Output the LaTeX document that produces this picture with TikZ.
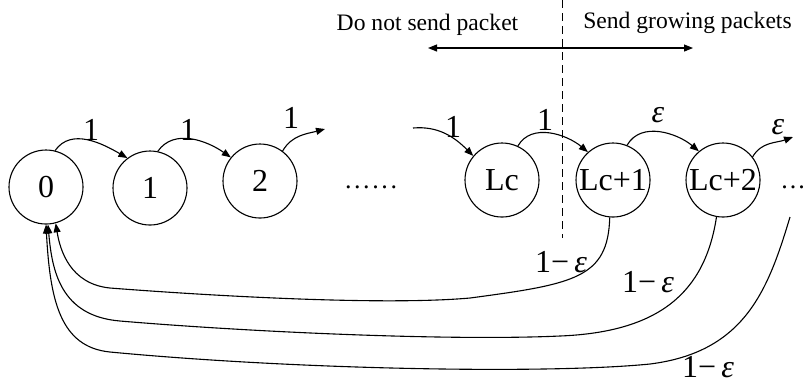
\documentclass[tikz,border=0pt]{standalone}
\usepackage{fontspec}
\setmainfont{Liberation Serif}
\usetikzlibrary{positioning, arrows.meta}

\begin{document}
\begin{tikzpicture}[
  x=0.5pt, y=-0.5pt,
  every node/.style={align=center, font=\fontsize{16}{19}\selectfont},
  cnode/.style={circle, draw=black, line width=0.55pt, minimum size=37pt, inner sep=0pt},
  trans/.style={-{Triangle[length=4.5pt,width=3.5pt]}, line width=0.55pt},
  side/.style={font=\fontsize{11.8}{14}\selectfont}
]
\useasboundingbox (0,0) rectangle (806,382);

% Chain states
\node[cnode] (n0) at (46,187) {0};
\node[cnode] (n1) at (150,188) {1};
\node[cnode] (n2) at (260,181) {2};
\node[cnode] (nLc) at (502,180) {Lc};
\node[cnode] (nLc1) at (613,180) {Lc+1};
\node[cnode] (nLc2) at (723,180) {Lc+2};
\node[font=\fontsize{13}{15}\selectfont] (gap) at (371,187) {.\kern1.3pt.\kern1.3pt.\kern1.3pt.\kern1.3pt.\kern1.3pt.};
\node[font=\fontsize{13}{15}\selectfont, anchor=west, inner sep=0pt] (more) at (781,187) {.\kern1pt.\kern1pt.};

% Free ends
\coordinate (out2) at (325,129);
\coordinate (inLc) at (413,128);
\coordinate (outLc2) at (793,137);
\coordinate (back3) at (790,217);
\coordinate (divtop) at (562,0);
\coordinate (divbot) at (562,238);
\coordinate (sendL) at (428,48);
\coordinate (sendR) at (693,48);

% Regions
\node[side] (nosend) at (427.5,25) {Do not send packet};
\node[side] (send) at (687.5,23) {Send growing packets};
\draw[dashed, dash pattern=on 4pt off 2.5pt, line width=0.5pt] (divtop) -- (divbot);
\draw[{Triangle[length=4.5pt,width=3.5pt]}-{Triangle[length=4.5pt,width=3.5pt]}, line width=0.55pt] (sendL) -- (sendR);

% Forward transitions
\draw[trans] (n0.76) to[out=55,in=150] (n1.127);
\draw[trans] (n1.78) to[out=55,in=145] (n2.141);
\draw[trans] (n2.53) to[out=60,in=195] (out2);
\draw[trans] (inLc) to[out=5,in=135] (nLc.140);
\draw[trans] (nLc.65) to[out=60,in=140] (nLc1.132);
\draw[trans] (nLc1.68) to[out=60,in=140] (nLc2.130);
\draw[trans] (nLc2.38) to[out=60,in=200] (outLc2);

\node (l01) at (91,130) {1};
\node (l12) at (188,130) {1};
\node (l2o) at (291,118) {1};
\node (liLc) at (453,127) {1};
\node (lLc) at (545,120) {1};
\node (lLc1) at (658,115) {\itshape ε};
\node (lLc2) at (778,127) {\itshape ε};

% Return transitions
\draw[trans] (nLc1.-95) .. controls (608,278) and (575,284) .. (470,298)
  .. controls (380,306) and (200,295) .. (110,288)
  .. controls (70,284) and (60,250) .. (n0.-75);
\draw[trans] (nLc2.-100) .. controls (705,292) and (660,332) .. (560,336)
  .. controls (450,341) and (250,332) .. (120,321)
  .. controls (60,316) and (52,270) .. (n0.-87);
\draw[trans] (back3) .. controls (768,290) and (745,352) .. (650,364)
  .. controls (550,374) and (300,370) .. (110,352)
  .. controls (60,347) and (50,300) .. (n0.-90);

\node (r1) at (561,262) {1−\,{\itshape ε}};
\node (r2) at (648,282) {1−\,{\itshape ε}};
\node (r3) at (708,367) {1−\,{\itshape ε}};

\end{tikzpicture}
\end{document}
